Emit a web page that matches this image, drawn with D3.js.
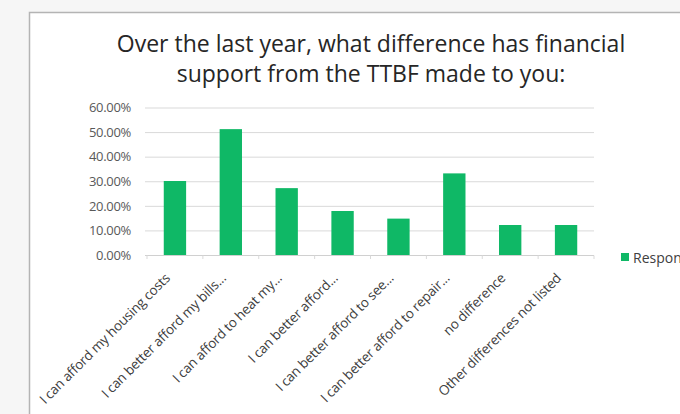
<!DOCTYPE html>
<html>
<head>
<meta charset="utf-8">
<script src="https://cdn.jsdelivr.net/npm/d3@7"></script>
<style>
  html, body { margin: 0; padding: 0; background: #f6f6f6; }
  svg { display: block; font-family: 'Open Sans', sans-serif; }
</style>
</head>
<body>
<svg id="chart" width="680" height="414"></svg>
<script>
// Chart data.
const categories = [
  'I can afford my housing costs',
  'I can better afford my bills...',
  'I can afford to heat my...',
  'I can better afford...',
  'I can better afford to see...',
  'I can better afford to repair...',
  'no difference',
  'Other differences not listed'
];
const values     = [ 30.1, 51.2, 27.2, 17.9, 14.8, 33.2, 12.2, 12.2 ];
const yTicks     = [ 0, 10, 20, 30, 40, 50, 60 ];
const seriesName = 'Responses';
const titleLines = [
  'Over the last year, what difference has financial',
  'support from the TTBF made to you:'
];

const svg   = d3.select( '#chart' );
const green = '#0fb866';

// Frame of the chart area.
svg.append( 'rect' )
  .attr( 'x', 29.5 ).attr( 'y', 12.5 )
  .attr( 'width', 700 ).attr( 'height', 450 )
  .attr( 'fill', '#ffffff' )
  .attr( 'stroke', '#b4b4b4' )
  .attr( 'stroke-width', 1.5 );

// Title.
svg.append( 'g' ).selectAll( 'text' )
  .data( titleLines )
  .join( 'text' )
    .attr( 'x', 371 )
    .attr( 'y', ( d, i ) => 52 + i * 30 )
    .attr( 'text-anchor', 'middle' )
    .attr( 'font-size', 23 )
    .attr( 'fill', '#262626' )
    .text( d => d );

// Scales.
const x = d3.scaleBand( )
  .domain( categories )
  .range( [ 147, 594 ] )
  .paddingInner( 0.6 )
  .paddingOuter( 0.3 );
const y = d3.scaleLinear( )
  .domain( [ 0, 60 ] )
  .range( [ 255, 107.5 ] );

// Gridlines and y labels.
const yAxis = d3.axisLeft( y )
  .tickValues( yTicks )
  .tickSize( -449 )
  .tickPadding( 14 )
  .tickFormat( d => d.toFixed( 2 ) + '%' );
const yG = svg.append( 'g' )
  .attr( 'transform', 'translate( 145, 0 )' )
  .call( yAxis );
yG.select( '.domain' ).remove( );
yG.selectAll( '.tick line' ).attr( 'stroke', '#d9d9d9' );
yG.selectAll( '.tick text' )
  .attr( 'fill', '#595959' )
  .attr( 'font-size', 13 )
  .attr( 'letter-spacing', -0.3 )
  .attr( 'font-family', "'Open Sans', sans-serif" );

// Bars.
svg.append( 'g' ).selectAll( 'rect' )
  .data( values )
  .join( 'rect' )
    .attr( 'x', ( d, i ) => x( categories[i] ) )
    .attr( 'y', d => y( d ) )
    .attr( 'width', x.bandwidth( ) )
    .attr( 'height', d => y( 0 ) - y( d ) )
    .attr( 'fill', green );

// Category axis line with small ticks between bands.
const step  = x.step( );
const start = x( categories[0] ) - ( step - x.bandwidth( ) ) / 2;
const xBase = svg.append( 'g' );
xBase.append( 'line' )
  .attr( 'x1', 145 ).attr( 'x2', 594 )
  .attr( 'y1', 255.5 ).attr( 'y2', 255.5 )
  .attr( 'stroke', '#d0d0d0' );
xBase.selectAll( '.sep' )
  .data( d3.range( categories.length + 1 ) )
  .join( 'line' )
    .attr( 'class', 'sep' )
    .attr( 'x1', i => start + i * step )
    .attr( 'x2', i => start + i * step )
    .attr( 'y1', 255.5 ).attr( 'y2', 259 )
    .attr( 'stroke', '#d9d9d9' );

// Rotated category labels.
svg.append( 'g' ).selectAll( 'text' )
  .data( categories )
  .join( 'text' )
    .attr( 'transform', d => `translate( ${x( d ) + x.bandwidth( ) / 2 - 4}, 279 ) rotate( -45 )` )
    .attr( 'text-anchor', 'end' )
    .attr( 'font-size', 13.5 )
    .attr( 'letter-spacing', -0.2 )
    .attr( 'fill', '#404040' )
    .text( d => d );

// Legend.
const legend = svg.append( 'g' ).attr( 'transform', 'translate( 621, 253 )' );
legend.append( 'rect' )
  .attr( 'width', 8 ).attr( 'height', 8 )
  .attr( 'fill', green );
legend.append( 'text' )
  .attr( 'x', 12 ).attr( 'y', 9.5 )
  .attr( 'font-size', 14 )
  .attr( 'fill', '#404040' )
  .text( seriesName );
</script>
</body>
</html>
